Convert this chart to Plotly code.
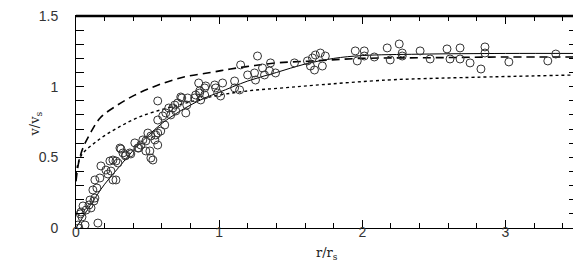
import plotly.graph_objects as go

# observed data points (r/r_s, v/v_s)
obs_r = [0.014, 0.063, 0.035, 0.042, 0.049, 0.153, 0.091, 0.105, 0.125, 0.132,
         0.118, 0.146, 0.132, 0.167, 0.174, 0.209, 0.223, 0.244, 0.258, 0.279,
         0.237, 0.258, 0.279, 0.293, 0.307, 0.328, 0.348, 0.376, 0.411, 0.432,
         0.453, 0.488, 0.467, 0.314, 0.345, 0.383, 0.439, 0.488, 0.502, 0.523,
         0.551, 0.516, 0.523, 0.571, 0.571, 0.571, 0.606, 0.627, 0.648, 0.676,
         0.697, 0.690, 0.711, 0.739, 0.767, 0.774, 0.571, 0.780, 0.829, 0.836,
         0.864, 0.899, 0.857, 0.899, 0.864, 0.871, 0.906, 0.969, 0.976, 0.990,
         1.024, 1.010, 1.108, 1.108, 1.143, 1.150, 1.199, 1.247, 1.254, 1.268,
         1.303, 1.317, 1.359, 1.352, 1.394, 1.526, 1.617, 1.638, 1.666, 1.652,
         1.672, 1.707, 1.721, 1.742, 1.951, 1.965, 2.014, 2.014, 2.084, 2.174,
         2.195, 2.258, 2.279, 2.279, 2.404, 2.474, 2.592, 2.613, 2.683, 2.683,
         2.753, 2.829, 2.857, 2.857, 3.024, 3.296, 3.352, 0.732, 0.662, 0.620,
         0.592, 0.557, 0.537, 0.098, 0.070, 0.020, 0.030]
obs_v = [0.021, 0.021, 0.113, 0.078, 0.156, 0.035, 0.163, 0.142, 0.191, 0.212,
         0.269, 0.283, 0.340, 0.354, 0.439, 0.410, 0.382, 0.403, 0.340, 0.340,
         0.474, 0.481, 0.474, 0.460, 0.566, 0.531, 0.517, 0.531, 0.602, 0.566,
         0.587, 0.545, 0.623, 0.559, 0.510, 0.524, 0.566, 0.616, 0.672, 0.651,
         0.623, 0.545, 0.495, 0.587, 0.672, 0.764, 0.793, 0.814, 0.849, 0.849,
         0.828, 0.870, 0.885, 0.920, 0.814, 0.870, 0.899, 0.920, 0.920, 0.941,
         0.955, 0.941, 1.026, 0.991, 0.970, 0.906, 1.005, 1.012, 0.991, 0.955,
         1.026, 0.934, 1.040, 0.991, 0.977, 1.154, 1.083, 1.097, 1.047, 1.217,
         1.132, 1.083, 1.168, 1.111, 1.097, 1.168, 1.182, 1.146, 1.118, 1.203,
         1.224, 1.238, 1.146, 1.217, 1.253, 1.182, 1.253, 1.217, 1.210, 1.274,
         1.189, 1.302, 1.238, 1.217, 1.253, 1.196, 1.267, 1.196, 1.274, 1.196,
         1.168, 1.125, 1.281, 1.238, 1.175, 1.182, 1.231, 0.927, 0.800, 0.729,
         0.686, 0.658, 0.481, 0.198, 0.127, 0.000, 0.100]

# model curves
solid_r = [0.0, 0.05, 0.1, 0.2, 0.3, 0.4, 0.5, 0.6, 0.7, 0.8, 0.9, 1.0,
           1.2, 1.4, 1.6, 1.8, 2.0, 2.4, 3.0, 3.5]
solid_v = [0.0, 0.08, 0.16, 0.31, 0.43, 0.55, 0.65, 0.74, 0.81, 0.87, 0.92, 0.96,
           1.04, 1.10, 1.16, 1.20, 1.22, 1.23, 1.235, 1.235]

dash_r = [0.0, 0.02, 0.05, 0.1, 0.17, 0.29, 0.41, 0.57, 0.76, 0.94, 1.08, 1.25,
          1.42, 1.62, 2.0, 2.5, 3.0, 3.5]
dash_v = [0.33, 0.47, 0.57, 0.67, 0.78, 0.87, 0.94, 1.01, 1.07, 1.10, 1.125, 1.15,
          1.17, 1.18, 1.20, 1.205, 1.21, 1.21]

dot_r = [0.0, 0.035, 0.153, 0.293, 0.453, 0.641, 0.829, 0.969, 1.199, 1.429,
         1.666, 2.174, 2.544, 3.5]
dot_v = [0.38, 0.51, 0.62, 0.71, 0.79, 0.85, 0.90, 0.934, 0.97, 0.99,
         1.01, 1.047, 1.06, 1.083]

x_ticks = [0, 1, 2, 3]
x_ticktext = ["0", "1", "2", "3"]
y_ticks = [0, 0.5, 1, 1.5]
y_ticktext = ["0", "0.5", "1", "1.5"]
x_title = "r/r<sub>s</sub>"
y_title = "v/v<sub>s</sub>"

fig = go.Figure()
fig.add_trace(go.Scatter(x=dot_r, y=dot_v, mode="lines", line=dict(color="black", width=1.4, dash="dot", shape="spline")))
fig.add_trace(go.Scatter(x=dash_r, y=dash_v, mode="lines", line=dict(color="black", width=1.6, dash="8px,5px", shape="spline")))
fig.add_trace(go.Scatter(x=solid_r, y=solid_v, mode="lines", line=dict(color="black", width=1, shape="spline")))
fig.add_trace(go.Scatter(x=obs_r, y=obs_v, mode="markers",
                         marker=dict(symbol="circle-open", size=8, color="#333", line=dict(width=1))))

tickfont = dict(family="Liberation Sans", size=14, color="#333")
axis_common = dict(showgrid=False, zeroline=False, showline=True, linecolor="black", linewidth=1,
                   mirror="allticks", ticks="inside", ticklen=8, tickcolor="black", tickwidth=1,
                   ticklabeloverflow="allow", automargin=False, tickfont=tickfont)

fig.update_xaxes(range=[0, 3.5], tickvals=x_ticks, ticktext=x_ticktext, showticklabels=False,
                 minor=dict(ticks="inside", dtick=0.2, tick0=0, ticklen=5, tickcolor="black"),
                 **axis_common)
fig.update_yaxes(range=[0, 1.5], tickvals=y_ticks, ticktext=y_ticktext,
                 minor=dict(ticks="inside", dtick=0.1, tick0=0, ticklen=5, tickcolor="black"),
                 ticklabelstandoff=14,
                 **axis_common)

# label-only axis, slightly raised so the tick labels sit closer to the frame
fig.update_layout(xaxis2=dict(overlaying="x", matches="x", anchor="free", position=0.03, side="bottom",
                              range=[0, 3.5], tickvals=x_ticks, ticktext=x_ticktext,
                              showline=False, showgrid=False, zeroline=False, ticks="",
                              automargin=False, tickfont=tickfont))
fig.add_trace(go.Scatter(x=[None], y=[None], xaxis="x2", yaxis="y", showlegend=False, hoverinfo="skip"))

fig.add_shape(type="line", xref="paper", yref="paper", x0=0, x1=1, y0=1, y1=1,
              line=dict(color="black", width=2.5))

fig.add_annotation(text=x_title, xref="paper", yref="paper", x=0.5, y=-0.17,
                   showarrow=False, font=dict(family="DejaVu Serif", size=13, color="#222"))
fig.add_annotation(text=y_title, xref="paper", yref="paper", x=-0.102, y=0.49, textangle=-90,
                   showarrow=False, font=dict(family="DejaVu Serif", size=13, color="#222"))

fig.update_layout(width=581, height=269, margin=dict(l=68, r=12, t=8, b=49),
                  plot_bgcolor="white", paper_bgcolor="white", showlegend=False)

fig.write_html("out.html")
